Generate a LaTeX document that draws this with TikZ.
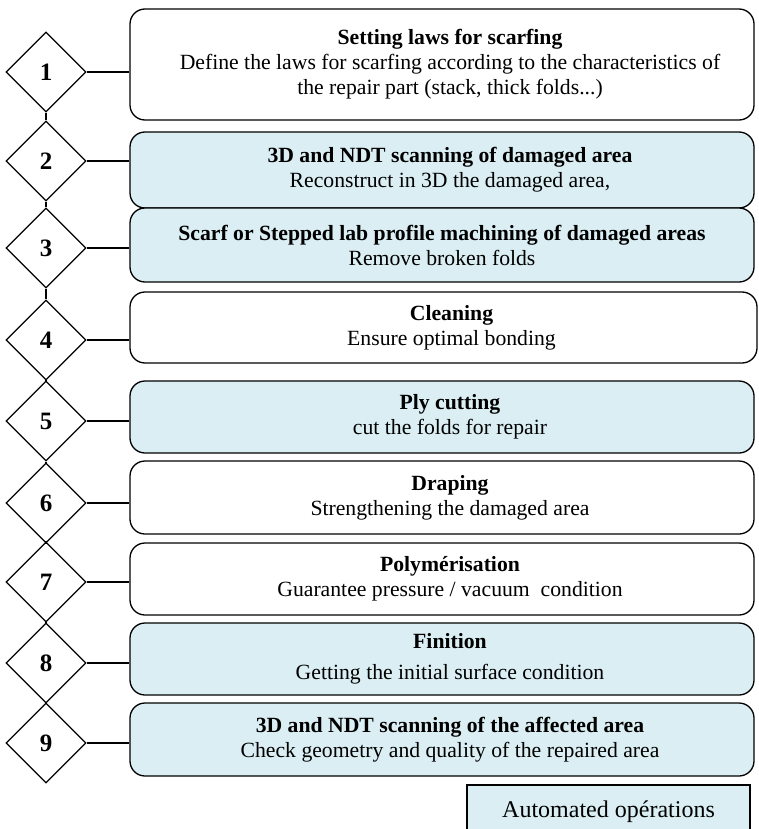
\documentclass[tikz,border=0pt]{standalone}
\usepackage{fontspec}
\setmainfont{Liberation Serif}
\usetikzlibrary{shapes.geometric}
\definecolor{autoblue}{HTML}{DAEEF3}
\begin{document}
\begin{tikzpicture}[x=1pt,y=-1pt,line width=1.3pt,
    font=\fontsize{21.7}{25}\selectfont,
    stepbox/.style={draw,rounded corners=15pt,minimum width=624pt,inner sep=0pt},
    steptext/.style={inner sep=0pt,align=center,xshift=8pt},
    numdiam/.style={draw,diamond,minimum size=80pt,inner sep=0pt,font=\fontsize{25}{25}\selectfont\bfseries},
    autofill/.style={fill=autoblue}]
  \useasboundingbox (0,0) rectangle (758,829);
  % numbered steps
  \node[numdiam] (d1) at (46,72) {1};
  \node[numdiam] (d2) at (46,161) {2};
  \node[numdiam] (d3) at (46,248) {3};
  \node[numdiam] (d4) at (46,340) {4};
  \node[numdiam] (d5) at (46,421) {5};
  \node[numdiam] (d6) at (46,503) {6};
  \node[numdiam] (d7) at (46,582) {7};
  \node[numdiam] (d8) at (46,663) {8};
  \node[numdiam] (d9) at (46,743) {9};
  \draw (d1.south)--(d2.north);
  \draw (d2.south)--(d3.north);
  \draw (d3.south)--(d4.north);
  \draw (d4.south)--(d5.north);
  \draw (d5.south)--(d6.north);
  \draw (d6.south)--(d7.north);
  \draw (d7.south)--(d8.north);
  \draw (d8.south)--(d9.north);
  % operations
  \node[stepbox,minimum height=111pt] (b1) at (442,64.5) {};
  \node[stepbox,autofill,minimum height=76pt] (b2) at (442,170) {};
  \node[stepbox,autofill,minimum height=74pt] (b3) at (442,245) {};
  \node[stepbox,minimum height=71pt,minimum width=627pt] (b4) at (443.5,327.5) {};
  \node[stepbox,autofill,minimum height=72pt] (b5) at (442,417) {};
  \node[stepbox,minimum height=73pt] (b6) at (442,497.5) {};
  \node[stepbox,minimum height=72pt] (b7) at (442,579) {};
  \node[stepbox,autofill,minimum height=72pt] (b8) at (442,659) {};
  \node[stepbox,autofill,minimum height=73pt] (b9) at (442,739.5) {};
  \node[steptext] (t1) at (b1) {\textbf{Setting laws for scarfing}\\Define the laws for scarfing according to the characteristics of\\the repair part (stack, thick folds...)};
  \node[steptext] (t2) at (b2) {\textbf{3D and NDT scanning of damaged area}\\Reconstruct in 3D the damaged area,};
  \node[steptext,xshift=-8pt] (t3) at (b3) {\textbf{Scarf or Stepped lab profile machining of damaged areas}\\Remove broken folds};
  \node[steptext] (t4) at (b4) {\textbf{Cleaning}\\Ensure optimal bonding};
  \node[steptext] (t5) at (b5) {\textbf{Ply cutting}\\cut the folds for repair};
  \node[steptext] (t6) at (b6) {\textbf{Draping}\\Strengthening the damaged area};
  \node[steptext] (t7) at (b7) {\textbf{Polymérisation}\\Guarantee pressure / vacuum\ \ condition};
  \node[steptext] (t8) at (b8) {\textbf{Finition}\\[6pt]Getting the initial surface condition};
  \node[steptext] (t9) at (b9) {\textbf{3D and NDT scanning of the affected area}\\Check geometry and quality of the repaired area};
  \draw (d1.east)--(d1.east -| b1.west);
  \draw (d2.east)--(d2.east -| b2.west);
  \draw (d3.east)--(d3.east -| b3.west);
  \draw (d4.east)--(d4.east -| b4.west);
  \draw (d5.east)--(d5.east -| b5.west);
  \draw (d6.east)--(d6.east -| b6.west);
  \draw (d7.east)--(d7.east -| b7.west);
  \draw (d8.east)--(d8.east -| b8.west);
  \draw (d9.east)--(d9.east -| b9.west);
  % legend
  \node[draw,autofill,minimum width=283pt,minimum height=54pt,inner sep=0pt,font=\fontsize{24}{25}\selectfont] (leg) at (608.5,812) {Automated opérations};
\end{tikzpicture}
\end{document}
